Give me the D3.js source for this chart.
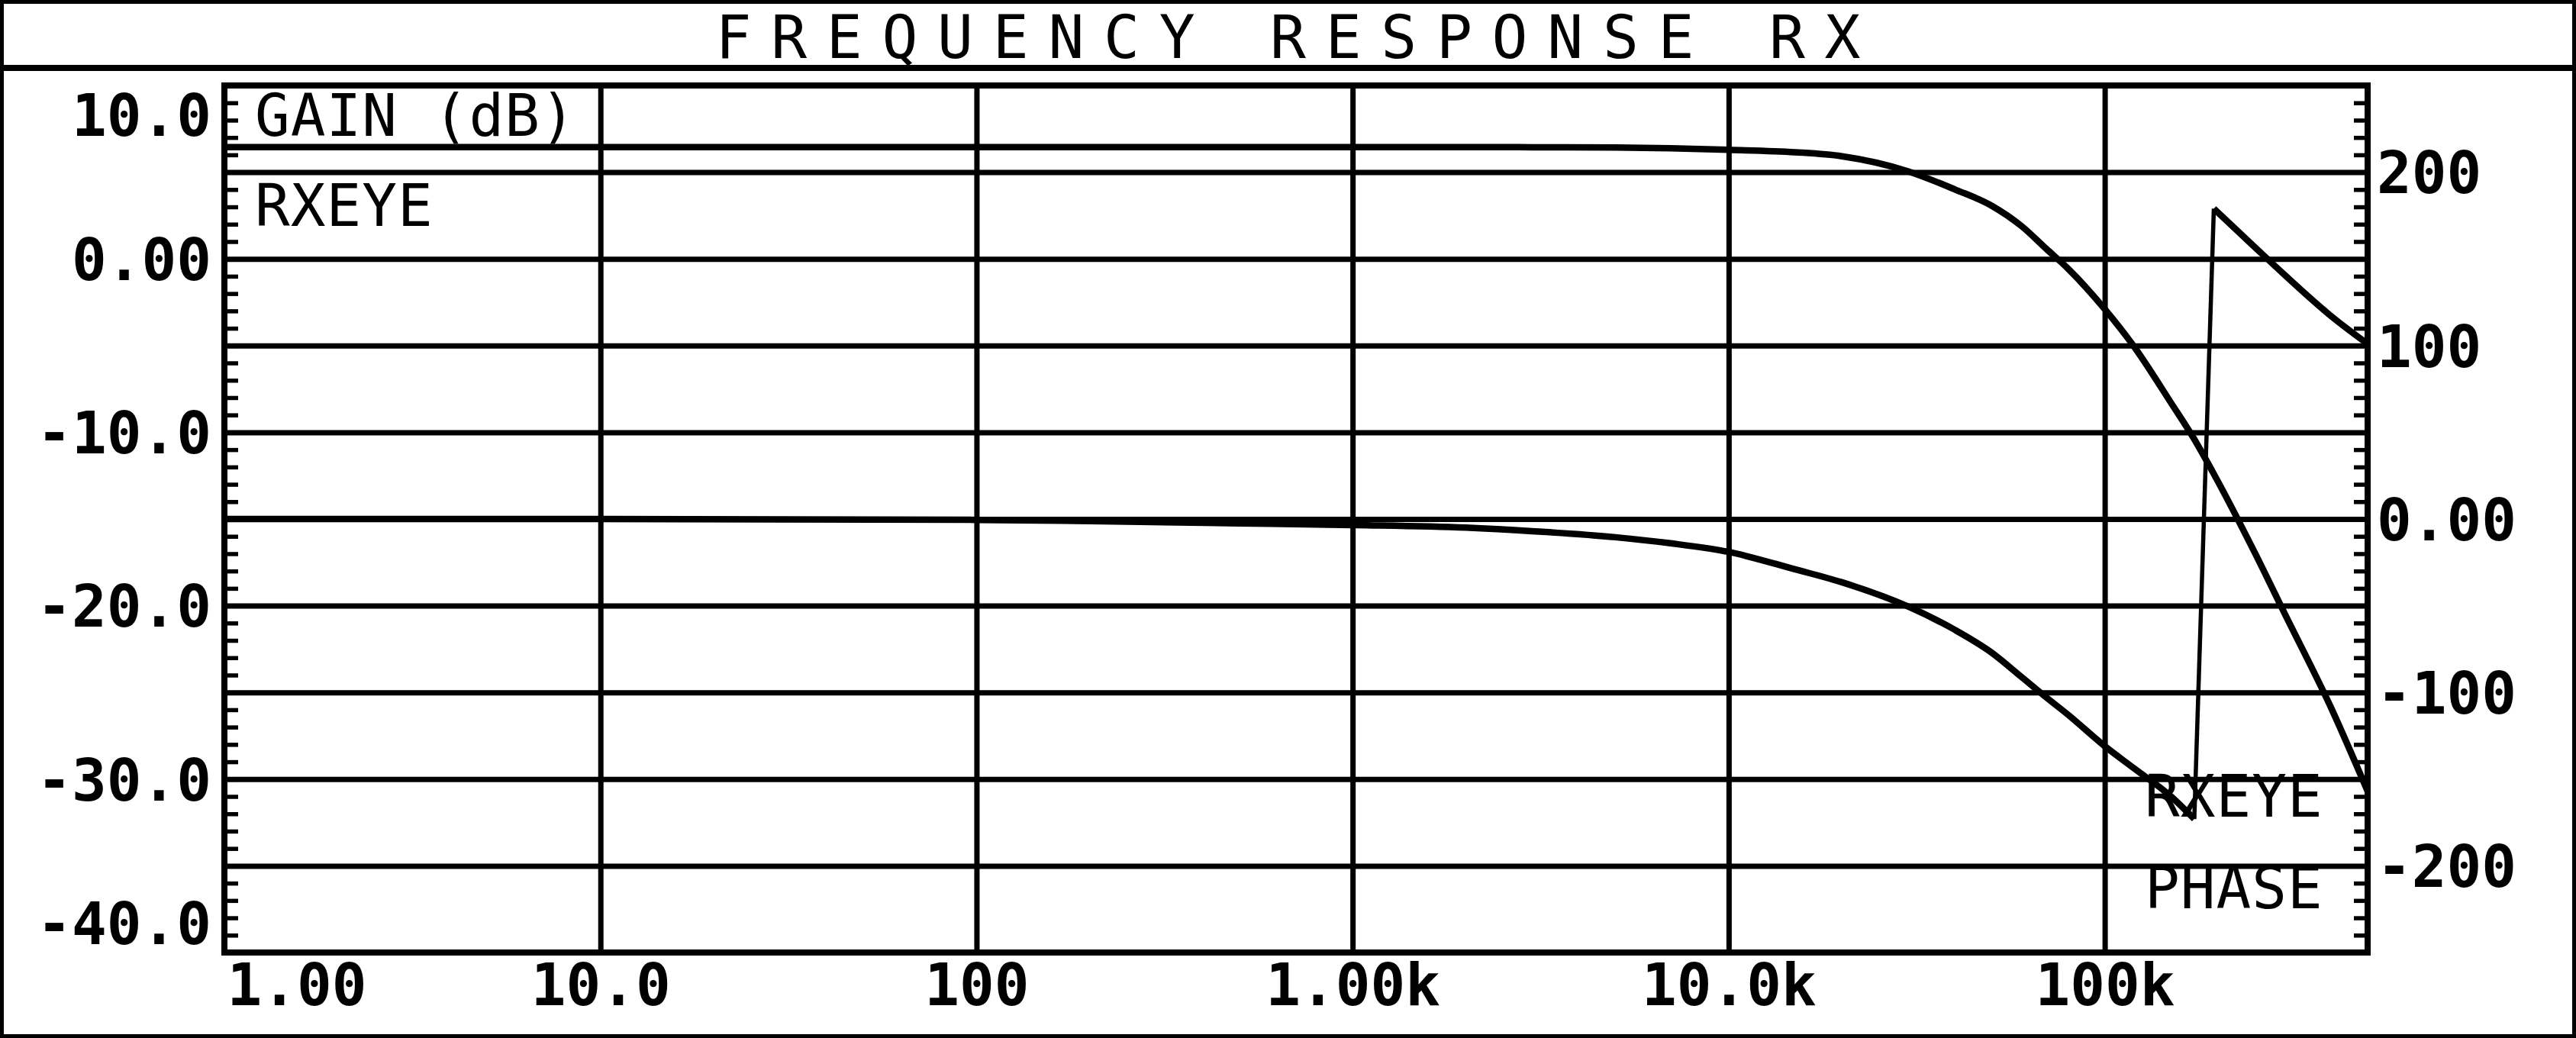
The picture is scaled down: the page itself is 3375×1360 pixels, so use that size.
<!DOCTYPE html>
<html>
<head>
<meta charset="utf-8">
<script src="https://cdn.jsdelivr.net/npm/d3@7"></script>
<style>
body { margin: 0; background: #fff; }
svg { display: block; }
text { font-family: "DejaVu Sans Mono", monospace; fill: #000; }
</style>
</head>
<body>
<svg id="chart" width="3375" height="1360"></svg>
<script>
// sweep points
const freq = [1, 10, 100, 200, 500, 1e3, 2e3, 3e3, 5e3, 7e3, 1e4, 1.5e4, 2e4, 3e4, 4e4, 5e4, 6e4, 7e4, 8e4, 1e5, 1.2e5, 1.5e5, 1.73e5, 1.95e5, 2.5e5, 3e5, 4e5, 5e5];
const gainDb = [6.45, 6.45, 6.45, 6.45, 6.45, 6.45, 6.45, 6.44, 6.42, 6.38, 6.29, 6.15, 5.92, 5.05, 4.0, 3.07, 1.9, 0.57, -0.58, -2.9, -5.1, -8.3, -10.4, -12.4, -16.9, -20.4, -25.9, -30.7];
const phaseDeg = [0, 0, -0.5, -1.2, -2.5, -3.5, -5, -7, -10.5, -14, -19, -29, -36.5, -50.5, -64, -77, -91, -103, -113, -131, -144, -160, -173, 179, 157, 141, 117, 101];

// axes ticks and labels
const freqTicks = [1, 10, 100, 1e3, 1e4, 1e5];
const freqLabels = ["1.00", "10.0", "100", "1.00k", "10.0k", "100k"];
const gainTicks = [10, 0, -10, -20, -30, -40];
const gainLabels = ["10.0", "0.00", "-10.0", "-20.0", "-30.0", "-40.0"];
const phaseTicks = [200, 100, 0, -100, -200];
const phaseLabels = ["200", "100", "0.00", "-100", "-200"];
const gainGrid = [5, 0, -5, -10, -15, -20, -25, -30, -35];

const title = "FREQUENCY RESPONSE RX";
const leftNames = ["GAIN (dB)", "RXEYE"];
const rightNames = ["RXEYE", "PHASE"];

const W = 3375, H = 1360;
const pLeft = 294, pRight = 3102, pTop = 112, pBottom = 1248;
const fs = 76;

const svg = d3.select("#chart");
svg.append("rect").attr("width", W).attr("height", H).attr("fill", "#fff");

const x = d3.scaleLog().domain([1, 5e5]).range([pLeft, pRight]);
const yGain = d3.scaleLinear().domain([-40, 10]).range([pBottom, pTop]);
const yPhase = d3.scaleLinear().domain([-250, 250]).range([pBottom, pTop]);

// outer border and title bar
svg.append("rect").attr("x", 2.5).attr("y", 2.5).attr("width", W - 5).attr("height", H - 5)
	.attr("fill", "none").attr("stroke", "#000").attr("stroke-width", 5);
svg.append("line").attr("x1", 0).attr("x2", W).attr("y1", 89).attr("y2", 89)
	.attr("stroke", "#000").attr("stroke-width", 8);
svg.append("text").attr("x", W / 2).attr("y", 76).attr("text-anchor", "middle")
	.attr("font-size", 78).attr("textLength", 1500).attr("lengthAdjust", "spacing").text(title);

// grid lines
const hgrid = svg.append("g").attr("transform", `translate(${pLeft},0)`)
	.call(d3.axisLeft(yGain).tickValues(gainGrid).tickSize(-(pRight - pLeft)).tickFormat(""));
const vgrid = svg.append("g").attr("transform", `translate(0,${pBottom})`)
	.call(d3.axisBottom(x).tickValues(freqTicks.slice(1)).tickSize(-(pBottom - pTop)).tickFormat(""));
[hgrid, vgrid].forEach(g => {
	g.select(".domain").remove();
	g.selectAll("line").attr("stroke", "#000").attr("stroke-width", 7);
});

// minor ticks on the inside of both y axes
const lminor = svg.append("g").attr("transform", `translate(${pLeft},0)`)
	.call(d3.axisLeft(yGain).ticks(50).tickSize(-18).tickFormat(""));
const rminor = svg.append("g").attr("transform", `translate(${pRight},0)`)
	.call(d3.axisRight(yPhase).ticks(50).tickSize(-18).tickFormat(""));
[lminor, rminor].forEach(g => {
	g.select(".domain").remove();
	g.selectAll("line").attr("stroke", "#000").attr("stroke-width", 5.5);
});

// plot frame
svg.append("rect").attr("x", pLeft).attr("y", pTop).attr("width", pRight - pLeft).attr("height", pBottom - pTop)
	.attr("fill", "none").attr("stroke", "#000").attr("stroke-width", 8);

// tick labels
const lax = svg.append("g").attr("transform", `translate(${pLeft},0)`)
	.call(d3.axisLeft(yGain).tickValues(gainTicks).tickSize(0).tickPadding(17).tickFormat((d, i) => gainLabels[i]));
const rax = svg.append("g").attr("transform", `translate(${pRight},0)`)
	.call(d3.axisRight(yPhase).tickValues(phaseTicks).tickSize(0).tickPadding(12).tickFormat((d, i) => phaseLabels[i]));
const xax = svg.append("g").attr("transform", `translate(0,${pBottom})`)
	.call(d3.axisBottom(x).tickValues(freqTicks).tickSize(0).tickPadding(15).tickFormat((d, i) => freqLabels[i]));
[lax, rax, xax].forEach(g => {
	g.select(".domain").remove();
	g.attr("font-family", null).attr("font-size", null);
	g.selectAll("text").attr("font-size", fs).attr("font-weight", "bold").attr("fill", "#000");
});
lax.selectAll("text").attr("dy", "0.36em");
rax.selectAll("text").attr("dy", "0.36em");
// end labels are pushed inside the frame
lax.selectAll("text").filter(d => d == 10).attr("dy", "0.86em");
lax.selectAll("text").filter(d => d == -40).attr("dy", "-0.15em");
xax.selectAll("text").filter(d => d == 1).attr("text-anchor", "start").attr("x", 3);

// trace names
const names = svg.append("g").attr("font-size", fs).attr("letter-spacing", 1);
names.selectAll("text.l").data(leftNames).enter().append("text").attr("class", "l")
	.attr("x", pLeft + 40).attr("y", (d, i) => 178 + i * 118).text(d => d);
names.selectAll("text.r").data(rightNames).enter().append("text").attr("class", "r")
	.attr("x", 2810).attr("y", (d, i) => 1070 + i * 120).text(d => d);

// curves
svg.append("clipPath").attr("id", "plotclip").append("rect")
	.attr("x", pLeft).attr("y", pTop).attr("width", pRight - pLeft).attr("height", pBottom - pTop);
const curves = svg.append("g").attr("clip-path", "url(#plotclip)")
	.attr("fill", "none").attr("stroke", "#000").attr("stroke-width", 8.5).attr("stroke-linejoin", "round");

const gainLine = d3.line().x(i => x(freq[i])).y(i => yGain(gainDb[i])).curve(d3.curveMonotoneX);
curves.append("path").attr("d", gainLine(d3.range(freq.length)));

// phase wraps at +/-180, split into runs and join them with straight segments
const runs = [];
let run = [0];
for (let i = 1; i < freq.length; i++) {
	if (Math.abs(phaseDeg[i] - phaseDeg[i - 1]) > 180) {
		runs.push(run);
		run = [];
	}
	run.push(i);
}
runs.push(run);
const phaseLine = d3.line().x(i => x(freq[i])).y(i => yPhase(phaseDeg[i])).curve(d3.curveMonotoneX);
const jumpLine = d3.line().x(i => x(freq[i])).y(i => yPhase(phaseDeg[i]));
runs.forEach((r, k) => {
	curves.append("path").attr("d", phaseLine(r));
	if (k > 0)
		curves.append("path").attr("stroke-width", 5.5).attr("d", jumpLine([runs[k - 1][runs[k - 1].length - 1], r[0]]));
});
</script>
</body>
</html>
